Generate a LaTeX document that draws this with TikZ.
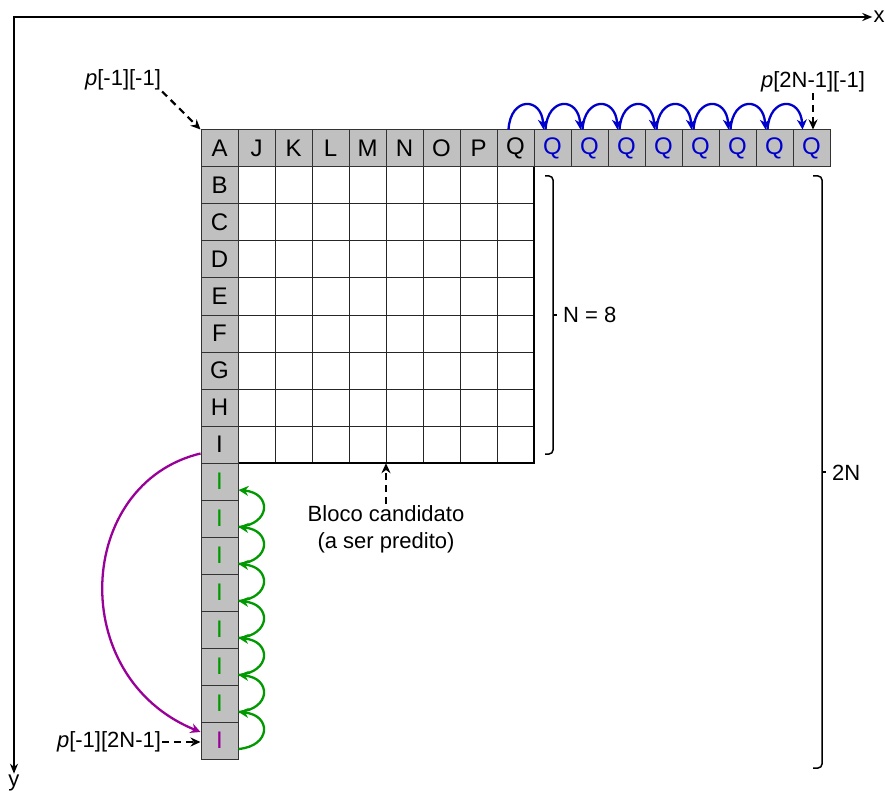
\documentclass[tikz,border=0pt]{standalone}
\usepackage{fontspec}
\setmainfont{Liberation Sans}
\usetikzlibrary{arrows.meta,calc}
\definecolor{cellgray}{RGB}{192,192,192}
\definecolor{qblue}{RGB}{0,0,204}
\definecolor{igreen}{RGB}{0,153,0}
\definecolor{ipurple}{RGB}{153,0,153}

\begin{document}
\begin{tikzpicture}[x=1pt,y=-1pt,
  cell/.style={draw=black!80, line width=1pt, fill=cellgray, minimum size=37pt,
    inner sep=0pt, font=\fontsize{24}{24}\selectfont},
  lbl/.style={font=\fontsize{22}{27}\selectfont, inner sep=1pt},
  axis/.style={line width=2pt, {Stealth[length=10pt,width=8pt]}-{Stealth[length=10pt,width=8pt]}},
  ptr/.style={line width=2.2pt, dash pattern=on 7pt off 5pt, -{Stealth[length=10pt,width=9pt]}},
  hop/.style={line width=2.3pt, -{Stealth[length=10pt,width=10pt]}},
  brace/.style={line width=1.5pt, rounded corners=4pt},
  gridline/.style={line width=1pt, black!85}]
\useasboundingbox (0,0) rectangle (885,791);

% axes
\coordinate (O) at (14,17);
\node[lbl] (xl) at (879,17) {x};
\node[lbl] (yl) at (14,783) {y};
\draw[axis] (xl.west) -- (O) -- (yl.north);

% candidate block grid
\node[minimum width=296pt, minimum height=296pt, inner sep=0pt] (blk) at (386,315) {};
\foreach \k in {1,...,7} {
  \draw[gridline] ({238+37*\k},167) -- ({238+37*\k},463);
  \draw[gridline] (238,{167+37*\k}) -- (534,{167+37*\k});
}
\draw[line width=2.2pt] (238,463) -- (534,463) -- (534,166);

% top reference row
\foreach \t [count=\i from 0] in {A,J,K,L,M,N,O,P,Q}
  \node[cell] (t\i) at ({219.5+37*\i},148.5) {\t};
\foreach \i in {9,...,16}
  \node[cell, text=qblue] (t\i) at ({219.5+37*\i},148.5) {Q};

% left reference column
\coordinate (l0) at (t0);
\foreach \t [count=\i from 1] in {B,C,D,E,F,G,H,I}
  \node[cell] (l\i) at (219.5,{148.5+37*\i}) {\t};
\foreach \i in {9,...,15}
  \node[cell, text=igreen] (l\i) at (219.5,{148.5+37*\i}) {I};
\node[cell, text=ipurple] (l16) at (219.5,{148.5+37*16}) {I};

% padding hops along the top row
\foreach \i [evaluate=\i as \j using int(\i+1)] in {8,...,15}
  \draw[hop, qblue] ($(t\i.north)+(-7,0)$) .. controls +(2,-33) and +(-2,-33) .. ($(t\j.north)+(-9,0)$);

% padding hops along the left column
\foreach \i [evaluate=\i as \j using int(\i-1)] in {16,...,10}
  \draw[hop, igreen] ($(l\i.east)+(0,8.5)$) .. controls +(33,-3) and +(33,3) .. ($(l\j.east)+(0,8.5)$);

% copy of the last available sample
\draw[hop, ipurple] ($(l8.west)+(0,9)$) .. controls +(-125,30) and +(-135,-55) .. ($(l16.west)+(0,-8.5)$);

% braces
\draw[brace] (545,176) -- (553,176) -- (553,454) -- (545,454);
\draw[line width=1.5pt] (553,315) -- (557,315);
\node[lbl, anchor=west] (nlab) at (562,315) {N = 8};

\draw[brace] (813,176) -- (822,176) -- (822,768) -- (813,768);
\draw[line width=1.5pt] (822,472) -- (826,472);
\node[lbl, anchor=west] (twon) at (831,473) {2N};

% labels and pointers
\node[lbl] (pa) at (123,80) {\textit{p}[-1][-1]};
\draw[ptr] (pa.south east) -- (t0.north west);

\node[lbl] (pb) at (813,82) {\textit{p}[2N-1][-1]};
\draw[ptr] (pb.south) -- (pb.south |- t16.north);

\node[lbl] (pc) at (109,742) {\textit{p}[-1][2N-1]};
\draw[ptr] (pc.east) -- (pc.east -| l16.west);

\node[lbl, align=center] (cand) at (386,529) {Bloco candidato\\(a ser predito)};
\draw[ptr] (cand.north) -- (blk.south);
\end{tikzpicture}
\end{document}
